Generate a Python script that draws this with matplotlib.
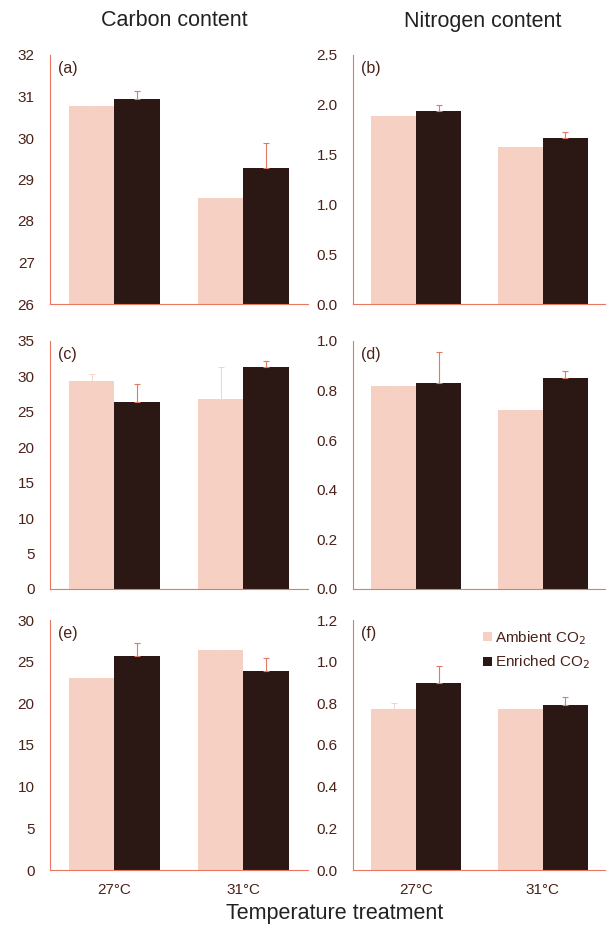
import matplotlib
matplotlib.use("Agg")
from matplotlib import pyplot as plt
import numpy as np

plt.rcParams["font.family"] = ["Liberation Sans", "DejaVu Sans"]

temps = ["27°C", "31°C"]

# panel (a) carbon, (b) nitrogen, (c) carbon, (d) nitrogen, (e) carbon, (f) nitrogen
a_ambient = [30.76, 28.55]
a_enriched = [30.94, 29.28]
a_amb_err = [0.0, 0.0]
a_enr_err = [0.20, 0.59]

b_ambient = [1.89, 1.58]
b_enriched = [1.94, 1.67]
b_amb_err = [0.0, 0.0]
b_enr_err = [0.06, 0.06]

c_ambient = [29.4, 26.8]
c_enriched = [26.4, 31.35]
c_amb_err = [0.9, 4.5]
c_enr_err = [2.6, 0.85]

d_ambient = [0.817, 0.72]
d_enriched = [0.83, 0.85]
d_amb_err = [0.0, 0.0]
d_enr_err = [0.124, 0.028]

e_ambient = [23.1, 26.4]
e_enriched = [25.7, 23.9]
e_amb_err = [0.0, 0.0]
e_enr_err = [1.6, 1.5]

f_ambient = [0.774, 0.774]
f_enriched = [0.897, 0.793]
f_amb_err = [0.03, 0.0]
f_enr_err = [0.08, 0.038]

panels = [
    ("(a)", a_ambient, a_enriched, a_amb_err, a_enr_err, (26, 32), np.arange(26, 33, 1), "{:.0f}"),
    ("(b)", b_ambient, b_enriched, b_amb_err, b_enr_err, (0, 2.5), np.arange(0, 2.51, 0.5), "{:.1f}"),
    ("(c)", c_ambient, c_enriched, c_amb_err, c_enr_err, (0, 35), np.arange(0, 36, 5), "{:.0f}"),
    ("(d)", d_ambient, d_enriched, d_amb_err, d_enr_err, (0, 1.0), np.arange(0, 1.01, 0.2), "{:.1f}"),
    ("(e)", e_ambient, e_enriched, e_amb_err, e_enr_err, (0, 30), np.arange(0, 31, 5), "{:.0f}"),
    ("(f)", f_ambient, f_enriched, f_amb_err, f_enr_err, (0, 1.2), np.arange(0, 1.21, 0.2), "{:.1f}"),
]

AMB = "#f6d0c2"
ENR = "#2b1714"
AXC = "#ea7560"
TXT = "#4a2219"
ERRC = "#e07a66"

W, H = 606, 935
fig = plt.figure(figsize=(W / 100, H / 100), dpi=100)

cols = [(50, 308), (353, 606)]
rows = [(55, 304), (341, 589), (620, 870)]

width = 0.355
centers = np.array([0.5, 1.5])

axes = []
for i, (lab, amb, enr, amb_err, enr_err, ylim, yt, fmt) in enumerate(panels):
    r, c = divmod(i, 2)
    x0, x1 = cols[c]
    y0, y1 = rows[r]
    ax = fig.add_axes([x0 / W, 1 - y1 / H, (x1 - x0) / W, (y1 - y0) / H])
    axes.append(ax)
    base = ylim[0]
    ax.bar(centers - width / 2, np.array(amb) - base, width, bottom=base, color=AMB,
           yerr=[[0, 0], amb_err], ecolor="#f4d3c8", error_kw=dict(elinewidth=0.7, capsize=2, capthick=0.7),
           label="Ambient CO$_2$")
    ax.bar(centers + width / 2, np.array(enr) - base, width, bottom=base, color=ENR,
           yerr=[[0, 0], enr_err], ecolor=ERRC, error_kw=dict(elinewidth=0.8, capsize=2, capthick=0.8),
           label="Enriched CO$_2$")
    ax.set_xlim(0, 2)
    ax.set_ylim(*ylim)
    ax.set_yticks(yt)
    ax.set_yticklabels([fmt.format(v) for v in yt])
    for s in ["top", "right"]:
        ax.spines[s].set_visible(False)
    for s in ["left", "bottom"]:
        ax.spines[s].set_color(AXC)
        ax.spines[s].set_linewidth(0.8)
    ax.tick_params(axis="y", length=0, pad=11, labelsize=11, labelcolor=TXT)
    ax.tick_params(axis="x", length=0, pad=9, labelsize=11, labelcolor=TXT)
    if r == 2:
        ax.set_xticks(centers)
        ax.set_xticklabels(temps)
    else:
        ax.set_xticks([])
    ax.text(0.03, 0.975, lab, transform=ax.transAxes, fontsize=11.5, color=TXT, va="top", ha="left")

leg = axes[5].legend(loc="upper right", bbox_to_anchor=(0.975, 1.0), frameon=False, fontsize=11,
                     handlelength=0.55, handleheight=0.55, handletextpad=0.25, labelspacing=0.45,
                     borderaxespad=0.2)
for t in leg.get_texts():
    t.set_color(TXT)

fig.text(174 / W, 1 - 21 / H, "Carbon content", ha="center", va="center", fontsize=15.5, color="#222222")
fig.text(483 / W, 1 - 21 / H, "Nitrogen content", ha="center", va="center", fontsize=15.5, color="#222222")
fig.text(335 / W, 1 - 913 / H, "Temperature treatment", ha="center", va="center", fontsize=15.5, color="#222222")

fig.savefig("out.png", dpi=100)
